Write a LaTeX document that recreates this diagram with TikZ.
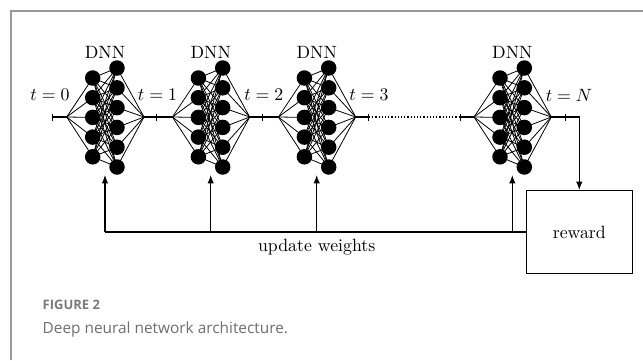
\documentclass[tikz,border=0pt]{standalone}
\usepackage{graphicx}
\usepackage{fontspec}
\newfontfamily\capfont{Open Sans}
\usetikzlibrary{arrows.meta}
\definecolor{framegray}{HTML}{9A9A9A}
\definecolor{capgray}{HTML}{7A7A7A}
\definecolor{textgray}{HTML}{6E6E6E}
\begin{document}
\begin{tikzpicture}[x=1pt,y=-1pt,
  neuron/.style={circle,fill=black,inner sep=0pt,minimum size=15.5pt},
  conn/.style={line width=0.8pt},
  wire/.style={line width=1.2pt},
  barend/.style={wire,-{Bar[width=7pt,line width=1.2pt]}},
  lbl/.style={scale=1.78},
  arr/.style={wire,-{Latex[length=8.5pt,width=6.5pt]}},
  frame/.style={draw=framegray,line width=1.5pt},
  rewardbox/.style={draw,line width=1.2pt,minimum width=106pt,minimum height=82.6pt,inner sep=0pt}]
\useasboundingbox (0,0) rectangle (643,360);
\draw[frame] (11,360) -- (11,11) -- (643,11);

\foreach \k/\c in {1/105,2/210.7,3/316.7,4/512.3} {
  \coordinate (in\k) at (\c-38.3,117);
  \coordinate (out\k) at (\c+39,117);
  \foreach \i in {1,...,5} \node[neuron] (a\k-\i) at (\c-12.3, 78+19.7*\i-19.7) {};
  \foreach \j in {1,...,6} \node[neuron] (b\k-\j) at (\c+12, 68+19.8*\j-19.8) {};
  \foreach \i in {1,...,5} {
    \draw[conn] (in\k) -- (a\k-\i.center);
    \foreach \j in {1,...,6} \draw[conn] (a\k-\i.center) -- (b\k-\j.center);
  }
  \foreach \j in {1,...,6} \draw[conn] (b\k-\j.center) -- (out\k);
  \node[lbl] (dnn\k) at (\c,52) {DNN};
  \coordinate (base\k) at (\c,232);
}

\coordinate (tk0) at (52,117);
\coordinate (tk1) at (157,117);
\coordinate (tk2) at (263,117);
\coordinate (tk3) at (369,117);
\coordinate (tk4) at (460,117);
\coordinate (tk5) at (565.7,117);

\node[lbl] (t0) at (50,95) {$t=0$};
\node[lbl] (t1) at (157.5,95) {$t=1$};
\node[lbl] (t2) at (263.8,95) {$t=2$};
\node[lbl] (t3) at (369,95) {$t=3$};
\node[lbl] (tN) at (569,95) {$t=N$};

\draw[wire,{Bar[width=7pt,line width=1.2pt]}-] (tk0) -- (in1);
\draw[barend] (out1) -- (tk1);
\draw[wire] (tk1) -- (in2);
\draw[barend] (out2) -- (tk2);
\draw[wire] (tk2) -- (in3);
\draw[barend] (out3) -- (tk3);
\draw[wire,dotted] (tk3) -- (tk4);
\draw[wire,{Bar[width=7pt,line width=1.2pt]}-] (tk4) -- (in4);
\draw[barend] (out4) -- (tk5);

\node[rewardbox] (reward) at (579.3,232) {\scalebox{1.78}{reward}};
\draw[arr] (tk5) -| (reward.north);

\draw[wire] (base1) -- (reward.west);
\foreach \k in {1,2,3,4} \draw[arr] (base\k) -- (base\k |- b\k-6.south);
\node[lbl] (uw) at (316.7,247.3) {update weights};

\node[anchor=west,text=capgray,inner sep=0pt] (figlbl) at (42.5,305) {\capfont\fontsize{13}{16}\selectfont\bfseries FIGURE 2};
\node[anchor=west,text=textgray,inner sep=0pt] (caption) at (42.5,329) {\capfont\fontsize{15.4}{18}\selectfont Deep neural network architecture.};
\end{tikzpicture}
\end{document}
